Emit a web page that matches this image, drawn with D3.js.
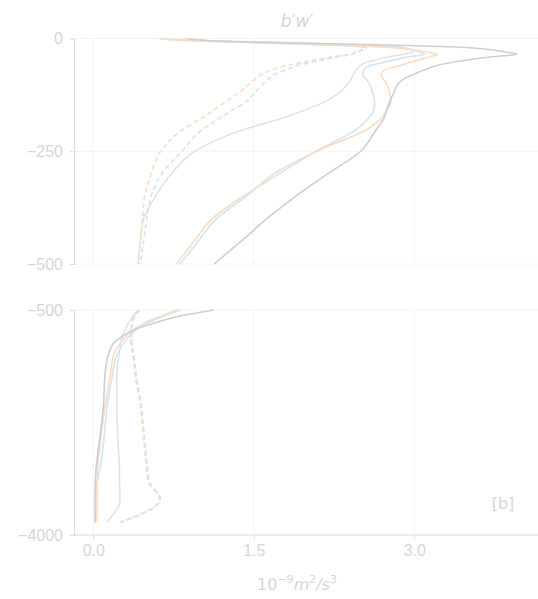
<!DOCTYPE html>
<html>
<head>
<meta charset="utf-8">
<script src="https://cdn.jsdelivr.net/npm/d3@7"></script>
<style>
  body { margin: 0; background: #fff; }
  svg { display: block; font-family: "DejaVu Sans", sans-serif; }
</style>
</head>
<body>
<div id="chart"></div>
<script>
// depth levels (m)
const topDepths = [0, -5, -10, -20, -30, -35, -40, -50, -60, -70, -80, -90, -100, -120, -140, -160, -180, -200, -250, -300, -350, -400, -450, -500];
const deepDepths = [-500, -600, -700, -800, -900, -1000, -1200, -1500, -2000, -2500, -3000, -3150, -3450, -3800];

// b'w' (1e-9 m2/s3), upper 500 m
const greyTop       = [0.88, 1.10, 1.95, 3.49, 3.85, 3.96, 3.75, 3.43, 3.21, 3.09, 2.99, 2.90, 2.85, 2.81, 2.77, 2.74, 2.71, 2.65, 2.50, 2.19, 1.89, 1.62, 1.38, 1.13];
const orangeTop     = [0.62, 0.95, 1.75, 2.77, 3.12, 3.22, 3.15, 3.00, 2.87, 2.72, 2.69, 2.71, 2.74, 2.77, 2.78, 2.74, 2.68, 2.57, 2.09, 1.74, 1.40, 1.11, 0.94, 0.78];
const blueTop       = [0.65, 0.98, 1.80, 2.85, 3.05, 3.10, 2.96, 2.77, 2.59, 2.53, 2.52, 2.55, 2.58, 2.61, 2.63, 2.62, 2.56, 2.47, 2.08, 1.69, 1.43, 1.15, 0.98, 0.81];
const lightGreyTop  = [0.85, 1.10, 1.90, 2.90, 2.99, 2.90, 2.77, 2.60, 2.49, 2.46, 2.43, 2.41, 2.38, 2.30, 2.17, 1.96, 1.72, 1.43, 0.95, 0.73, 0.58, 0.47, 0.44, 0.42];
const orangeDashTop = [0.62, 0.90, 1.56, 2.54, 2.45, 2.40, 2.25, 2.02, 1.81, 1.66, 1.57, 1.51, 1.46, 1.36, 1.24, 1.12, 0.99, 0.85, 0.63, 0.54, 0.48, 0.46, 0.44, 0.42];
const blueDashTop   = [0.65, 0.93, 1.60, 2.55, 2.47, 2.42, 2.30, 2.10, 1.91, 1.80, 1.69, 1.64, 1.59, 1.51, 1.43, 1.29, 1.16, 1.03, 0.83, 0.64, 0.54, 0.50, 0.47, 0.44];

// b'w' below 500 m
const greyDeep       = [1.13, 0.79, 0.58, 0.39, 0.28, 0.20, 0.14, 0.11, 0.095, 0.06, 0.025, 0.02, 0.016, 0.016];
const orangeDeep     = [0.78, 0.62, 0.48, 0.38, 0.31, 0.26, 0.19, 0.16, 0.11, 0.07, 0.04, 0.037, 0.035, 0.035];
const blueDeep       = [0.81, 0.65, 0.51, 0.41, 0.34, 0.29, 0.22, 0.18, 0.13, 0.10, 0.06, 0.04, 0.025, 0.02];
const lightGreyDeep  = [0.42, 0.37, 0.33, 0.30, 0.27, 0.26, 0.24, 0.22, 0.22, 0.23, 0.245, 0.245, 0.25, 0.125];
const orangeDashDeep = [0.42, 0.38, 0.36, 0.35, 0.35, 0.35, 0.37, 0.39, 0.44, 0.47, 0.50, 0.51, 0.62, 0.25];
const blueDashDeep   = [0.44, 0.39, 0.37, 0.36, 0.36, 0.36, 0.38, 0.40, 0.45, 0.48, 0.51, 0.52, 0.63, 0.26];

const xTicks = [0, 1.5, 3.0];
const topYTicks = [0, -250, -500];
const deepYTicks = [-500, -4000];

const series = [
  { top: lightGreyTop,  deep: lightGreyDeep,  color: '#e3e3e3', dash: null },
  { top: orangeDashTop, deep: orangeDashDeep, color: '#fcdcc2', dash: '5,3' },
  { top: blueDashTop,   deep: blueDashDeep,   color: '#d3e4f3', dash: '5,3' },
  { top: blueTop,       deep: blueDeep,       color: '#d3e4f3', dash: null },
  { top: orangeTop,     deep: orangeDeep,     color: '#fcdcc2', dash: null },
  { top: greyTop,       deep: greyDeep,       color: '#cfcfcf', dash: null }
];

const width = 538, height = 599;
const textColor = '#d6d6d6';
const spineColor = '#dddddd';
const gridColor = '#f4f4f4';

const svg = d3.select('#chart').append('svg')
  .attr('width', width)
  .attr('height', height);

const x = d3.scaleLinear().domain([-0.18, 4.3]).range([74, 74 + 4.48 * 107]);
const yTop = d3.scaleLinear().domain([-500, 0]).range([264, 38.5]);
const yDeep = d3.scaleLinear().domain([-4000, -500]).range([535, 310]);

function panel(y, yTicks, depths, key, showX) {
  const g = svg.append('g');
  const [y0, y1] = y.range();

  // grid
  g.selectAll('.vg').data(xTicks).enter().append('line')
    .attr('x1', d => x(d)).attr('x2', d => x(d))
    .attr('y1', y1).attr('y2', y0)
    .attr('stroke', gridColor).attr('stroke-width', 1);
  g.selectAll('.hg').data(yTicks).enter().append('line')
    .attr('x1', x.range()[0]).attr('x2', width)
    .attr('y1', d => y(d)).attr('y2', d => y(d))
    .attr('stroke', gridColor).attr('stroke-width', 1);

  const line = d3.line()
    .curve(d3.curveMonotoneY)
    .x(d => x(d[0]))
    .y(d => y(d[1]));

  series.forEach(s => {
    g.append('path')
      .datum(s[key].map((v, i) => [v, depths[i]]))
      .attr('d', line)
      .attr('fill', 'none')
      .attr('stroke', s.color)
      .attr('stroke-width', 1.6)
      .attr('stroke-dasharray', s.dash);
  });

  const ya = g.append('g')
    .attr('transform', `translate(${x.range()[0]},0)`)
    .call(d3.axisLeft(y).tickValues(yTicks).tickSize(4).tickPadding(7).tickFormat(d3.format('d')));
  ya.select('.domain').attr('stroke', spineColor).attr('stroke-width', 1.2);
  ya.selectAll('.tick line').attr('stroke', spineColor);
  ya.selectAll('.tick text').attr('fill', textColor).style('font-size', '16px');

  if (showX) {
    const xa = g.append('g')
      .attr('transform', `translate(0,${y0})`)
      .call(d3.axisBottom(x).tickValues(xTicks).tickSize(4).tickPadding(6).tickFormat(d3.format('.1f')));
    xa.select('.domain').attr('stroke', spineColor).attr('stroke-width', 1.2)
      .attr('d', `M${x.range()[0]},0H${width}`);
    xa.selectAll('.tick line').attr('stroke', spineColor);
    xa.selectAll('.tick text').attr('fill', textColor).style('font-size', '16px');
  }
}

panel(yTop, topYTicks, topDepths, 'top', false);
panel(yDeep, deepYTicks, deepDepths, 'deep', true);

// title
svg.append('text')
  .attr('x', 297).attr('y', 27)
  .attr('text-anchor', 'middle')
  .attr('fill', textColor)
  .style('font-size', '17px')
  .style('font-style', 'italic')
  .text("b\u2032w\u2032");

// x label
const xl = svg.append('text')
  .attr('x', 297).attr('y', 590)
  .attr('text-anchor', 'middle')
  .attr('fill', textColor)
  .style('font-size', '16px');
xl.append('tspan').text('10');
xl.append('tspan').attr('dy', -7).style('font-size', '11px').text('\u22129');
xl.append('tspan').attr('dy', 7).style('font-style', 'italic').text('m');
xl.append('tspan').attr('dy', -7).style('font-size', '11px').text('2');
xl.append('tspan').attr('dy', 7).style('font-style', 'italic').text('/s');
xl.append('tspan').attr('dy', -7).style('font-size', '11px').text('3');

// panel tag
svg.append('text')
  .attr('x', 503).attr('y', 509)
  .attr('text-anchor', 'middle')
  .attr('fill', textColor)
  .style('font-size', '16px')
  .text('[b]');
</script>
</body>
</html>
